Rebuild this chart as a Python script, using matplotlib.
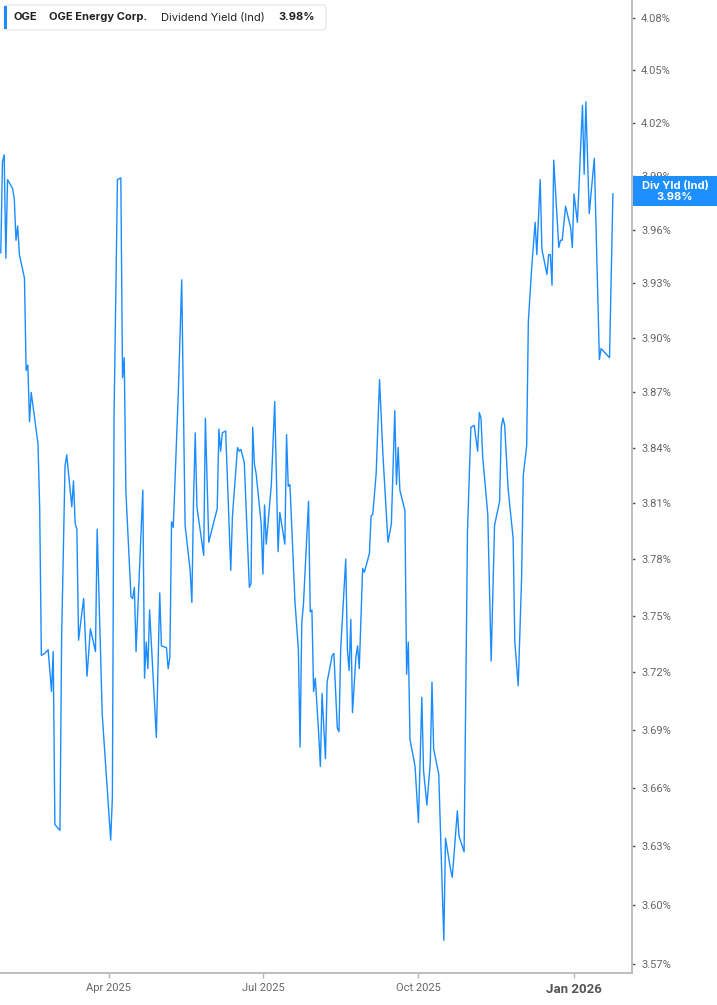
import pandas as pd
import matplotlib
matplotlib.use('Agg')
import matplotlib.pyplot as plt
from matplotlib.patches import FancyBboxPatch, Rectangle
from matplotlib.ticker import FixedLocator, NullLocator, FuncFormatter

plt.rcParams['font.family'] = ['Roboto', 'DejaVu Sans']

# dividend yield (%)
dates = ['2025-01-27', '2025-01-28', '2025-01-29', '2025-01-30', '2025-01-31',
         '2025-02-03', '2025-02-04', '2025-02-05', '2025-02-06', '2025-02-07',
         '2025-02-10', '2025-02-11', '2025-02-12', '2025-02-13', '2025-02-14',
         '2025-02-18', '2025-02-19', '2025-02-20', '2025-02-22', '2025-02-24',
         '2025-02-26', '2025-02-27', '2025-02-28', '2025-03-03', '2025-03-04',
         '2025-03-05', '2025-03-06', '2025-03-07', '2025-03-10', '2025-03-11',
         '2025-03-12', '2025-03-13', '2025-03-14', '2025-03-17', '2025-03-19',
         '2025-03-21', '2025-03-24', '2025-03-25', '2025-03-28', '2025-04-02',
         '2025-04-03', '2025-04-04', '2025-04-06', '2025-04-08', '2025-04-09',
         '2025-04-10', '2025-04-11', '2025-04-14', '2025-04-15', '2025-04-16',
         '2025-04-17', '2025-04-21', '2025-04-22', '2025-04-23', '2025-04-24',
         '2025-04-25', '2025-04-29', '2025-05-01', '2025-05-02', '2025-05-05',
         '2025-05-06', '2025-05-07', '2025-05-08', '2025-05-09', '2025-05-12',
         '2025-05-14', '2025-05-16', '2025-05-19', '2025-05-20', '2025-05-21',
         '2025-05-22', '2025-05-23', '2025-05-27', '2025-05-28', '2025-05-30',
         '2025-06-02', '2025-06-04', '2025-06-05', '2025-06-06', '2025-06-07',
         '2025-06-09', '2025-06-12', '2025-06-13', '2025-06-16', '2025-06-17',
         '2025-06-18', '2025-06-20', '2025-06-23', '2025-06-24', '2025-06-25',
         '2025-06-26', '2025-06-27', '2025-06-30', '2025-07-01', '2025-07-02',
         '2025-07-03', '2025-07-06', '2025-07-08', '2025-07-10', '2025-07-11',
         '2025-07-14', '2025-07-15', '2025-07-16', '2025-07-17', '2025-07-19',
         '2025-07-20', '2025-07-22', '2025-07-23', '2025-07-24', '2025-07-25',
         '2025-07-28', '2025-07-29', '2025-07-30', '2025-07-31', '2025-08-01',
         '2025-08-03', '2025-08-04', '2025-08-05', '2025-08-07', '2025-08-08',
         '2025-08-11', '2025-08-12', '2025-08-14', '2025-08-15', '2025-08-16',
         '2025-08-19', '2025-08-20', '2025-08-21', '2025-08-22', '2025-08-23',
         '2025-08-25', '2025-08-26', '2025-08-27', '2025-08-29', '2025-08-30',
         '2025-09-02', '2025-09-03', '2025-09-04', '2025-09-06', '2025-09-08',
         '2025-09-10', '2025-09-13', '2025-09-15', '2025-09-17', '2025-09-18',
         '2025-09-19', '2025-09-20', '2025-09-23', '2025-09-24', '2025-09-25',
         '2025-09-26', '2025-09-29', '2025-10-01', '2025-10-03', '2025-10-04',
         '2025-10-06', '2025-10-08', '2025-10-09', '2025-10-10', '2025-10-13',
         '2025-10-16', '2025-10-17', '2025-10-20', '2025-10-21', '2025-10-24',
         '2025-10-25', '2025-10-28', '2025-10-30', '2025-11-01', '2025-11-03',
         '2025-11-05', '2025-11-06', '2025-11-07', '2025-11-08', '2025-11-11',
         '2025-11-13', '2025-11-15', '2025-11-18', '2025-11-19', '2025-11-20',
         '2025-11-21', '2025-11-23', '2025-11-26', '2025-11-27', '2025-11-29',
         '2025-12-01', '2025-12-02', '2025-12-04', '2025-12-05', '2025-12-07',
         '2025-12-09', '2025-12-10', '2025-12-12', '2025-12-13', '2025-12-16',
         '2025-12-17', '2025-12-18', '2025-12-19', '2025-12-20', '2025-12-23',
         '2025-12-24', '2025-12-25', '2025-12-27', '2025-12-30', '2025-12-31',
         '2026-01-01', '2026-01-03', '2026-01-06', '2026-01-07', '2026-01-08',
         '2026-01-10', '2026-01-13', '2026-01-16', '2026-01-17', '2026-01-22',
         '2026-01-24']

div_yield = [3.947, 3.998, 4.002, 3.944, 3.988,
             3.983, 3.977, 3.954, 3.962, 3.946,
             3.933, 3.882, 3.885, 3.854, 3.870,
             3.842, 3.808, 3.729, 3.730, 3.732,
             3.710, 3.731, 3.641, 3.638, 3.739,
             3.783, 3.830, 3.836, 3.808, 3.822,
             3.799, 3.796, 3.737, 3.759, 3.718,
             3.743, 3.731, 3.796, 3.698, 3.633,
             3.655, 3.858, 3.988, 3.989, 3.878,
             3.889, 3.816, 3.760, 3.759, 3.765,
             3.731, 3.817, 3.717, 3.736, 3.722,
             3.753, 3.686, 3.762, 3.734, 3.733,
             3.722, 3.728, 3.800, 3.797, 3.870,
             3.932, 3.798, 3.774, 3.757, 3.812,
             3.848, 3.808, 3.782, 3.856, 3.789,
             3.800, 3.807, 3.850, 3.838, 3.848,
             3.849, 3.774, 3.803, 3.840, 3.838,
             3.839, 3.832, 3.765, 3.767, 3.851,
             3.831, 3.826, 3.799, 3.772, 3.809,
             3.788, 3.820, 3.865, 3.784, 3.805,
             3.788, 3.847, 3.819, 3.820, 3.778,
             3.757, 3.732, 3.681, 3.746, 3.756,
             3.811, 3.752, 3.753, 3.710, 3.717,
             3.688, 3.671, 3.709, 3.675, 3.715,
             3.729, 3.730, 3.691, 3.689, 3.732,
             3.780, 3.732, 3.721, 3.748, 3.699,
             3.728, 3.734, 3.722, 3.775, 3.773,
             3.783, 3.803, 3.804, 3.826, 3.877,
             3.836, 3.789, 3.799, 3.860, 3.820,
             3.840, 3.817, 3.806, 3.719, 3.736,
             3.685, 3.671, 3.642, 3.707, 3.669,
             3.651, 3.673, 3.715, 3.680, 3.667,
             3.582, 3.634, 3.618, 3.614, 3.648,
             3.635, 3.627, 3.795, 3.851, 3.852,
             3.838, 3.859, 3.856, 3.835, 3.804,
             3.726, 3.798, 3.811, 3.851, 3.856,
             3.852, 3.818, 3.791, 3.736, 3.713,
             3.770, 3.825, 3.841, 3.909, 3.939,
             3.964, 3.946, 3.988, 3.949, 3.935,
             3.946, 3.946, 3.929, 3.999, 3.950,
             3.954, 3.954, 3.973, 3.961, 3.950,
             3.980, 3.964, 4.030, 3.991, 4.032,
             3.969, 4.000, 3.888, 3.894, 3.889,
             3.980]

ytick_vals = [3.57, 3.60, 3.63, 3.66, 3.69, 3.72, 3.75, 3.78, 3.81, 3.84,
              3.87, 3.90, 3.93, 3.96, 3.99, 4.02, 4.05, 4.08]
xtick_dates = ['2025-04-01', '2025-07-01', '2025-10-01', '2026-01-01']
xtick_labels = ['Apr 2025', 'Jul 2025', 'Oct 2025', 'Jan 2026']

ticker = 'OGE'
company = 'OGE Energy Corp.'
metric = 'Dividend Yield (Ind)'
short_metric = 'Div Yld (Ind)'
last_value = '3.98%'

W, H = 717, 1005
blue = '#1a8cff'
axis_grey = '#b8b8b8'


def fx(px):
    return px / W


def fy(py):
    return 1 - py / H


fig = plt.figure(figsize=(W / 100, H / 100), dpi=100)
ax = fig.add_axes([0, 32 / H, 632 / W, 973 / H])

ax.plot(pd.to_datetime(dates), div_yield, color=blue, lw=1.0)

ax.set_yscale('log')
ax.set_ylim(3.5655, 4.0904)
ax.set_xlim(pd.Timestamp('2025-01-26 13:00'), pd.Timestamp('2026-02-04 07:00'))

ax.yaxis.set_major_locator(FixedLocator(ytick_vals))
ax.yaxis.set_minor_locator(NullLocator())
ax.yaxis.set_major_formatter(FuncFormatter(lambda v, p: '%.2f%%' % v))
ax.yaxis.tick_right()
ax.tick_params(axis='y', length=2, width=1, color='#555555', pad=4.5,
               labelsize=8, labelcolor='#666666')

ax.set_xticks(pd.to_datetime(xtick_dates))
ax.set_xticklabels(xtick_labels)
ax.xaxis.set_minor_locator(NullLocator())
ax.tick_params(axis='x', length=3.5, width=1, color=axis_grey, pad=4,
               labelsize=8, labelcolor='#666666')
jan = ax.get_xticklabels()[-1]
jan.set_fontweight('bold')
jan.set_fontsize(9.5)
jan.set_color('#555555')

for side in ['left', 'top']:
    ax.spines[side].set_visible(False)
for side in ['right', 'bottom']:
    ax.spines[side].set_color(axis_grey)
    ax.spines[side].set_linewidth(1.3)

# legend box top left
fig.patches.append(FancyBboxPatch((fx(4), fy(30)), fx(322), 25 / H,
                                  boxstyle='round,pad=0,rounding_size=0.004',
                                  transform=fig.transFigure, fc='white',
                                  ec='#e4e4e4', lw=0.8, zorder=2))
fig.patches.append(Rectangle((fx(4), fy(29)), fx(2.8), 23 / H,
                             transform=fig.transFigure, fc=blue, ec='none', zorder=3))
ty = fy(17.5)
fig.text(fx(13.3), ty, ticker, fontsize=8, fontweight='bold', color='#222222',
         va='center', family=['Inter', 'DejaVu Sans'])
fig.text(fx(49), ty, company, fontsize=8, fontweight='bold', color='#222222',
         va='center', family=['Inter', 'DejaVu Sans'])
fig.text(fx(161), ty, metric, fontsize=8, color='#222222',
         va='center', family=['Inter', 'DejaVu Sans'])
fig.text(fx(278), ty, last_value, fontsize=8, fontweight='bold', color='#222222',
         va='center', family=['Inter', 'DejaVu Sans'])

# current value box on the right axis
fig.patches.append(Rectangle((fx(633), fy(206)), fx(84), 30 / H,
                             transform=fig.transFigure, fc='#1e8fff', ec='none', zorder=2))
fig.text(fx(675), fy(185.5), short_metric, fontsize=8, fontweight='bold',
         color='white', ha='center', va='center', family=['Inter', 'DejaVu Sans'])
fig.text(fx(675), fy(196.5), last_value, fontsize=8, fontweight='bold',
         color='white', ha='center', va='center', family=['Inter', 'DejaVu Sans'])

fig.savefig('out.png', dpi=100)
